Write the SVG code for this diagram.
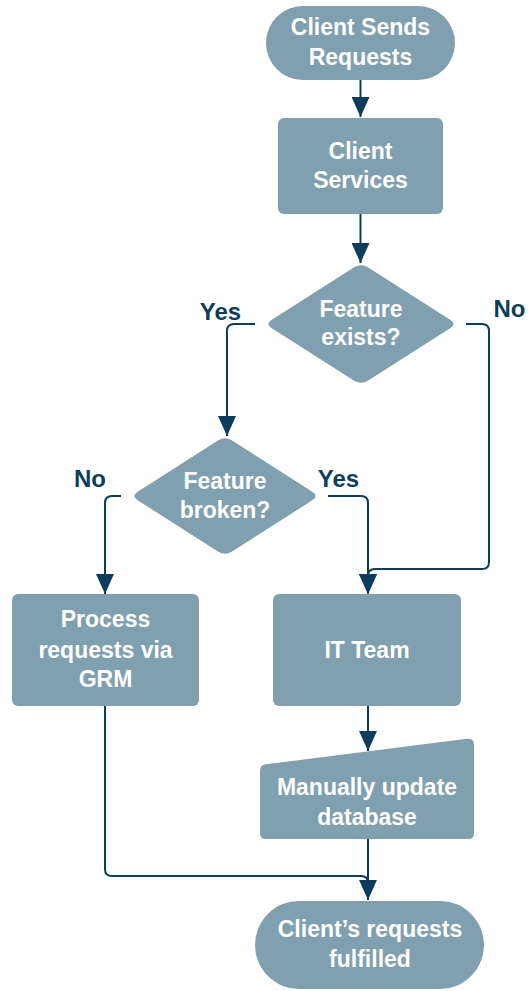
<svg xmlns="http://www.w3.org/2000/svg" width="528" height="991" viewBox="0 0 528 991">
<defs>
<style>
.n{fill:#809FAF;}
.t{font-family:"Liberation Sans",Arial,sans-serif;font-weight:bold;font-size:23px;fill:#FFFFFF;text-anchor:middle;}
.l{font-family:"Liberation Sans",Arial,sans-serif;font-weight:bold;font-size:24px;fill:#0E3D5C;text-anchor:middle;}
.c{fill:none;stroke:#0E3D5C;stroke-width:2;}
</style>
<marker id="arr" markerUnits="userSpaceOnUse" markerWidth="20" markerHeight="18" viewBox="0 0 20 18" refX="20" refY="9" orient="auto">
<path d="M0,0 L20,9 L0,18 Z" fill="#0E3D5C"/>
</marker>
</defs>
<rect width="528" height="991" fill="#FFFFFF"/>
<g id="connectors">
<path class="c" d="M360.5,80 V117" marker-end="url(#arr)"/>
<path class="c" d="M360.5,214 V263" marker-end="url(#arr)"/>
<path class="c" d="M255,324 H234 Q227,324 227,331 V436" marker-end="url(#arr)"/>
<path class="c" d="M466,324 H482 Q489,324 489,331 V562 Q489,569 482,569 H375 Q368,569 368,576 V594" marker-end="url(#arr)"/>
<path class="c" d="M328,496 H361 Q368,496 368,503 V594" marker-end="url(#arr)"/>
<path class="c" d="M121,496 H112 Q105,496 105,503 V594" marker-end="url(#arr)"/>
<path class="c" d="M368,706 V751" marker-end="url(#arr)"/>
<path class="c" d="M368,839 V900" marker-end="url(#arr)"/>
<path class="c" d="M105,706 V869 Q105,876 112,876 H361 Q368,876 368,883"/>
</g>
<g id="start">
<rect class="n" x="266" y="6" width="189" height="74" rx="37"/>
<text class="t" x="360.5" y="35">Client Sends</text>
<text class="t" x="360.5" y="65">Requests</text>
</g>
<g id="client-services">
<rect class="n" x="278" y="118" width="165" height="96" rx="6"/>
<text class="t" x="360.5" y="159">Client</text>
<text class="t" x="360.5" y="188">Services</text>
</g>
<g id="feature-exists">
<path class="n" d="M271.8,319.7 L354.2,267.3 Q361,263 367.8,267.3 L450.2,319.7 Q457,324 450.2,328.3 L367.8,380.7 Q361,385 354.2,380.7 L271.8,328.3 Q265,324 271.8,319.7 Z"/>
<text class="t" x="361" y="317">Feature</text>
<text class="t" x="361" y="345">exists?</text>
</g>
<text class="l" x="220.5" y="320">Yes</text>
<text class="l" x="509.5" y="317">No</text>
<g id="feature-broken">
<path class="n" d="M137.7,491.7 L218.3,440.3 Q225,436 231.7,440.3 L312.3,491.7 Q319,496 312.3,500.3 L231.7,551.7 Q225,556 218.3,551.7 L137.7,500.3 Q131,496 137.7,491.7 Z"/>
<text class="t" x="225" y="489">Feature</text>
<text class="t" x="225" y="518">broken?</text>
</g>
<text class="l" x="90" y="487">No</text>
<text class="l" x="338.5" y="487">Yes</text>
<g id="process-grm">
<rect class="n" x="12" y="594" width="187" height="112" rx="6"/>
<text class="t" x="105.5" y="627">Process</text>
<text class="t" x="105.5" y="658">requests via</text>
<text class="t" x="105.5" y="687">GRM</text>
</g>
<g id="it-team">
<rect class="n" x="273" y="594" width="188" height="112" rx="6"/>
<text class="t" x="367" y="658">IT Team</text>
</g>
<g id="manual-update">
<path class="n" d="M260,771 Q260,765 266,764.3 L467,738.8 Q474,738 474,745 V833 Q474,839 468,839 H266 Q260,839 260,833 Z"/>
<text class="t" x="367" y="795">Manually update</text>
<text class="t" x="367" y="825">database</text>
</g>
<g id="end">
<rect class="n" x="255" y="901" width="229" height="88" rx="44"/>
<text class="t" x="370" y="937">Client’s requests</text>
<text class="t" x="370" y="967">fulfilled</text>
</g>
</svg>
